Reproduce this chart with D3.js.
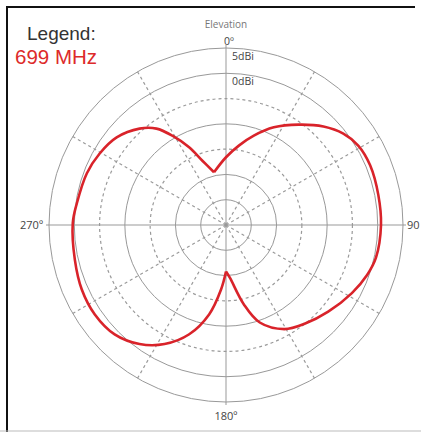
<!DOCTYPE html>
<html>
<head>
<meta charset="utf-8">
<script src="https://cdn.jsdelivr.net/npm/d3@7"></script>
<style>
  html, body { margin: 0; padding: 0; background: #fff; }
  svg { display: block; }
</style>
</head>
<body>
<svg id="chart" width="421" height="432"></svg>
<script>
// ---- data ----
const legendTitle = "Legend:";
const seriesName = "699 MHz";
const axisTitle = "Elevation";
const ringValues = [-25, -20, -15, -10, -5, 0, 5];          // dBi
const dashedRings = [-15, -5];
const ringLabels = [{ value: 5, text: "5dBi" }, { value: 0, text: "0dBi" }];
const axisAngles = [0, 90, 180, 270];
const axisLabels = ["0º", "90", "180º", "270º"];
const spokeAngles = [30, 60, 120, 150, 210, 240, 300, 330];
// gain pattern: angle (deg, clockwise from top) and gain (dBi)
const patternAngles = [-12.8, 0, 9.2, 17.3, 26.1, 35.9, 44.7, 52.1, 59, 67.5, 78.9, 90,
  102.3, 109.5, 118.4, 130.3, 141.2, 150.7, 160.9, 167.3, 175.7, 180,
  184.4, 190.7, 198.6, 207.3, 216, 225.5, 235.7, 245.9, 257, 270.7, 278.3, 290.4,
  299.5, 308.7, 318.1, 324.2, 329, 334.6, 339.7, 347.2];
const patternGains = [-19.3, -16.6, -14.1, -11.5, -8.5, -5.5, -2.6, -0.6, 0.5, 0.85, 0.7, 0.65,
  0.35, -0.4, -1.7, -3.5, -5.0, -6.4, -9.6, -13.9, -19.5, -20.8,
  -17.2, -12.0, -7.2, -3.5, -0.9, 0.87, 1.4, 1.24, 0.67, 0.3, -0.2, -0.65,
  -1.3, -2.3, -4.4, -6.5, -9.4, -13.0, -16.4, -19.3];
const cuspAngles = [180];

// ---- layout ----
const svg = d3.select("#chart");
const cx = 226, cy = 225, R = 177;
const r = d3.scaleLinear().domain([-30, 5]).range([0, R]);
const rad = d => d * Math.PI / 180;

// frame
svg.append("rect").attr("x", 0).attr("y", 0).attr("width", 421).attr("height", 432).attr("fill", "#fff");
svg.append("line").attr("x1", 7).attr("x2", 7).attr("y1", 6).attr("y2", 432).attr("stroke", "#111").attr("stroke-width", 2);
svg.append("line").attr("x1", 6).attr("x2", 415).attr("y1", 7).attr("y2", 7).attr("stroke", "#111").attr("stroke-width", 2);
svg.append("line").attr("x1", 0).attr("x2", 421).attr("y1", 431).attr("y2", 431).attr("stroke", "#bbb").attr("stroke-width", 1);

const g = svg.append("g").attr("transform", `translate(${cx},${cy})`);

// rings
g.selectAll("circle.ring").data(ringValues).join("circle")
  .attr("class", "ring")
  .attr("r", d => r(d))
  .attr("fill", "none")
  .attr("stroke", d => dashedRings.includes(d) ? "#9a9a9a" : "#999")
  .attr("stroke-width", d => dashedRings.includes(d) ? 1.2 : 1)
  .attr("stroke-dasharray", d => dashedRings.includes(d) ? "3,3" : null);

// dashed spokes
g.selectAll("line.spoke").data(spokeAngles).join("line")
  .attr("class", "spoke")
  .attr("x1", 0).attr("y1", 0)
  .attr("x2", d => r(5) * Math.sin(rad(d)))
  .attr("y2", d => -r(5) * Math.cos(rad(d)))
  .attr("stroke", "#9a9a9a").attr("stroke-width", 1.2).attr("stroke-dasharray", "3,3");

// solid axes
g.selectAll("line.axis").data(axisAngles).join("line")
  .attr("class", "axis")
  .attr("x1", 0).attr("y1", 0)
  .attr("x2", d => (r(5) + 3) * Math.sin(rad(d)))
  .attr("y2", d => -(r(5) + 3) * Math.cos(rad(d)))
  .attr("stroke", "#999").attr("stroke-width", 1);

// pattern curve, split at cusps
const pts = patternAngles.map((a, i) => ({ a, v: patternGains[i] }));
const segments = [];
let cur = [];
pts.forEach(p => {
  cur.push(p);
  if (cuspAngles.includes(p.a)) { segments.push(cur); cur = [p]; }
});
segments.push(cur);
const line = d3.lineRadial().angle(d => rad(d.a)).radius(d => r(d.v)).curve(d3.curveCatmullRom.alpha(0.5));
g.selectAll("path.pattern").data(segments).join("path")
  .attr("class", "pattern")
  .attr("d", line)
  .attr("fill", "none")
  .attr("stroke", "#d9232a")
  .attr("stroke-width", 2.6)
  .attr("stroke-linejoin", "miter");

// labels
const lab = "'Open Sans', 'DejaVu Sans', sans-serif";
svg.append("text").attr("x", cx).attr("y", 28).attr("text-anchor", "middle")
  .attr("font-family", lab).attr("font-size", 10).attr("fill", "#777").text(axisTitle);
svg.append("text").attr("x", cx + 3).attr("y", cy - R - 3).attr("text-anchor", "middle")
  .attr("font-family", lab).attr("font-size", 10.5).attr("fill", "#444").text(axisLabels[0]);
svg.append("text").attr("x", cx + R + 4).attr("y", cy + 4).attr("text-anchor", "start")
  .attr("font-family", lab).attr("font-size", 11).attr("fill", "#444").text(axisLabels[1]);
svg.append("text").attr("x", cx).attr("y", cy + R + 18).attr("text-anchor", "middle")
  .attr("font-family", lab).attr("font-size", 11).attr("fill", "#444").text(axisLabels[2]);
svg.append("text").attr("x", cx - R - 6).attr("y", cy + 4).attr("text-anchor", "end")
  .attr("font-family", lab).attr("font-size", 11).attr("fill", "#444").text(axisLabels[3]);
svg.selectAll("text.ringlab").data(ringLabels).join("text")
  .attr("class", "ringlab")
  .attr("x", cx + 6).attr("y", d => cy - r(d.value) + 12)
  .attr("font-family", lab).attr("font-size", 10.5).attr("fill", "#444").text(d => d.text);

// legend
svg.append("text").attr("x", 27).attr("y", 40)
  .attr("font-family", "'Liberation Sans', Arial, sans-serif").attr("font-size", 19).attr("fill", "#333").text(legendTitle);
svg.append("text").attr("x", 15).attr("y", 64)
  .attr("font-family", "'Liberation Sans', Arial, sans-serif").attr("font-size", 20.5).attr("fill", "#dd2a2a").text(seriesName);
</script>
</body>
</html>
